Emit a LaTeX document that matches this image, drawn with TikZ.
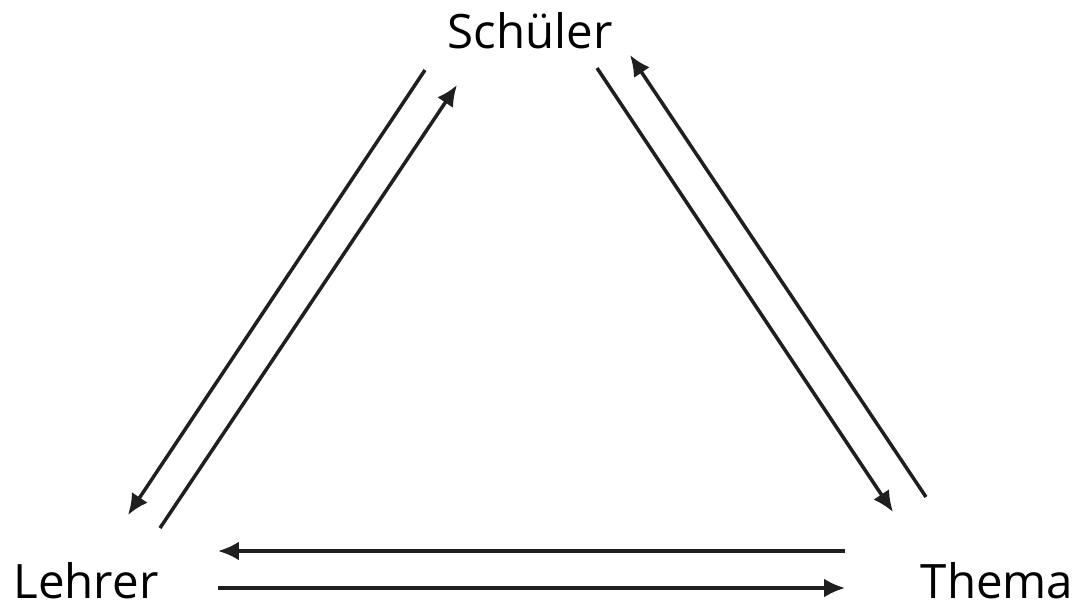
\documentclass[tikz,border=0pt]{standalone}
\usepackage{fontspec}
\setmainfont{Open Sans}
\usetikzlibrary{arrows.meta}

\begin{document}
\begin{tikzpicture}[
  x=0.02cm, y=-0.02cm,
  lbl/.style={font=\fontsize{27}{32}\selectfont, inner sep=0pt, anchor=base},
  ar/.style={-{Latex[length=4.2mm, width=3.8mm]}, line width=2pt, black!88}]

\useasboundingbox (0,0) rectangle (1081,610);

% corner labels
\node[lbl] (sch) at (530, 48)  {Schüler};
\node[lbl] (leh) at (86, 598)  {Lehrer};
\node[lbl] (the) at (997, 598) {Thema};

% arrow ends
\coordinate (sl1) at (425, 70);  \coordinate (ls1) at (128, 515);
\coordinate (ls2) at (160, 528); \coordinate (sl2) at (457, 85);
\coordinate (st1) at (597, 68);  \coordinate (ts1) at (893, 512);
\coordinate (ts2) at (926, 497); \coordinate (st2) at (630, 55);
\coordinate (tl1) at (845, 551); \coordinate (lt1) at (218, 551);
\coordinate (lt2) at (218, 588); \coordinate (tl2) at (845, 588);

% Schueler -- Lehrer
\draw[ar] (sl1) -- (ls1);
\draw[ar] (ls2) -- (sl2);
% Schueler -- Thema
\draw[ar] (st1) -- (ts1);
\draw[ar] (ts2) -- (st2);
% Thema -- Lehrer
\draw[ar] (tl1) -- (lt1);
\draw[ar] (lt2) -- (tl2);
\end{tikzpicture}
\end{document}
